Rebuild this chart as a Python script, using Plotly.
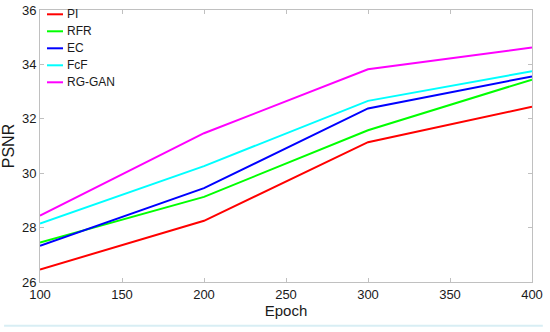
import plotly.graph_objects as go

epochs = [100, 200, 300, 400]
pi = [26.46, 28.25, 31.14, 32.44]
rfr = [27.45, 29.13, 31.58, 33.44]
ec = [27.33, 29.45, 32.38, 33.56]
fcf = [28.15, 30.26, 32.66, 33.75]
rg_gan = [28.44, 31.47, 33.82, 34.62]

names = ["PI", "RFR", "EC", "FcF", "RG-GAN"]
colors = ["#ff0000", "#00ff00", "#0000ff", "#00ffff", "#ff00ff"]
values = [pi, rfr, ec, fcf, rg_gan]

fig = go.Figure()
for name, vals, col in zip(names, values, colors):
    fig.add_trace(go.Scatter(x=epochs, y=vals, mode="lines", name=name,
                             line=dict(color=col, width=2), showlegend=False))

axis_common = dict(showline=True, linecolor="#c0c0c0", linewidth=1, mirror="ticks",
                   ticks="inside", ticklen=4, tickcolor="#c0c0c0", showgrid=False,
                   zeroline=False, automargin=False,
                   tickfont=dict(size=13, color="#1a1a1a"))
fig.update_xaxes(range=[100, 400], tickvals=[100, 150, 200, 250, 300, 350, 400],
                 title=dict(text="Epoch", font=dict(size=15, color="#1a1a1a"), standoff=2),
                 **axis_common)
fig.update_yaxes(range=[26, 36], tickvals=[26, 28, 30, 32, 34, 36],
                 title=dict(text="PSNR", font=dict(size=16, color="#1a1a1a"), standoff=6),
                 **axis_common)
fig.update_layout(
    width=550, height=332,
    margin=dict(l=40, r=18, t=10, b=50),
    paper_bgcolor="white", plot_bgcolor="white",
    font=dict(family="Liberation Sans, Arial, sans-serif"),
    showlegend=False,
)

# legend (drawn in paper coordinates)
plot_w, plot_h = 492.0, 272.0
for i, (name, col) in enumerate(zip(names, colors)):
    yp = 1 - (4.3 + 17 * i) / plot_h
    fig.add_shape(type="line", xref="paper", yref="paper",
                  x0=7 / plot_w, x1=23 / plot_w, y0=yp, y1=yp,
                  line=dict(color=col, width=2))
    fig.add_annotation(xref="paper", yref="paper", x=25 / plot_w, y=yp,
                       text=name, showarrow=False, xanchor="left", yanchor="middle",
                       font=dict(size=12, color="#1a1a1a"))

fig.add_shape(type="line", xref="paper", yref="paper", x0=-0.073, x1=1.022,
              y0=-0.161, y1=-0.161, line=dict(color="#d8eef4", width=2))
fig.write_html("out.html", config={"displayModeBar": False},
               post_script="document.body.style.margin='0';")
